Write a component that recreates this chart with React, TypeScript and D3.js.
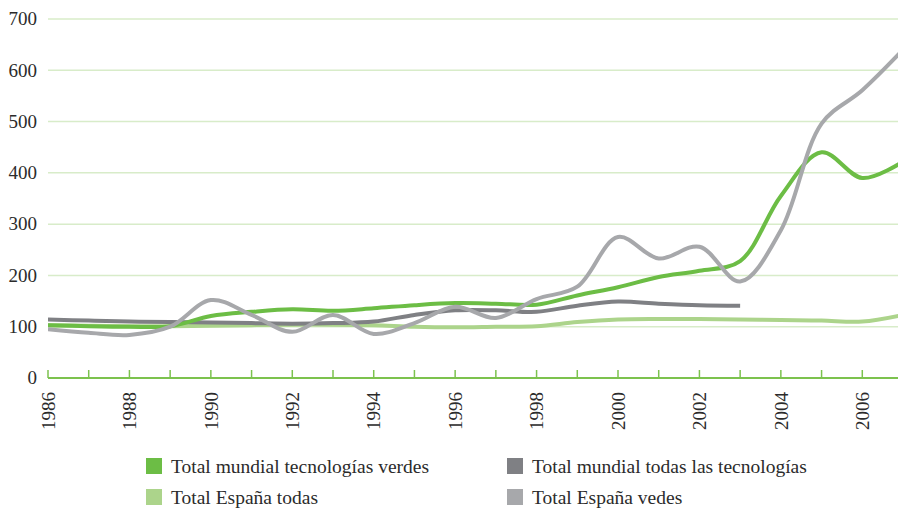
import React from "react";
import * as d3 from "d3";

const years = d3.range(1986, 2008);
const yTicks = [0, 100, 200, 300, 400, 500, 600, 700];
const yearLabels = [1986, 1988, 1990, 1992, 1994, 1996, 1998, 2000, 2002, 2004, 2006];

// Total mundial tecnologías verdes
const mundialVerdes = [103, 101, 100, 101, 121, 129, 134, 131, 136, 142, 146, 145, 143, 161, 177, 197, 209, 228, 355, 440, 390, 422];
// Total mundial todas las tecnologías (ends in 2003)
const mundialTodas = [114, 112, 110, 109, 108, 107, 106, 107, 110, 123, 132, 132, 129, 141, 149, 145, 142, 141];
// Total España todas
const espanaTodas = [103, 102, 101, 101, 102, 103, 104, 104, 103, 100, 99, 100, 101, 109, 114, 115, 115, 114, 113, 112, 110, 123];
// Total España vedes
const espanaVerdes = [95, 88, 84, 100, 152, 123, 90, 123, 86, 107, 139, 117, 154, 178, 275, 233, 256, 188, 288, 496, 561, 640];

const series = [
  { name: "Total España todas", values: espanaTodas, color: "#acd48b" },
  { name: "Total mundial todas las tecnologías", values: mundialTodas, color: "#7f8084" },
  { name: "Total mundial tecnologías verdes", values: mundialVerdes, color: "#6cbd45" },
  { name: "Total España vedes", values: espanaVerdes, color: "#a7a8ab" },
];

const legend = [
  { name: "Total mundial tecnologías verdes", color: "#6cbd45", col: 0, row: 0 },
  { name: "Total mundial todas las tecnologías", color: "#7f8084", col: 1, row: 0 },
  { name: "Total España todas", color: "#acd48b", col: 0, row: 1 },
  { name: "Total España vedes", color: "#a7a8ab", col: 1, row: 1 },
];

export default function App() {
  const width = 898;
  const height = 509;
  const left = 48;
  const right = 898;

  const x = d3.scaleLinear().domain([1986, 2007]).range([left, 903]);
  const y = d3.scaleLinear().domain([0, 700]).range([378, 19]);

  const line = d3
    .line<number>()
    .x((_, i) => x(years[i]))
    .y((d) => y(d))
    .curve(d3.curveCatmullRom.alpha(0.5));

  const font = "Liberation Serif, serif";

  return (
    <svg
      width={width}
      height={height}
      style={{ position: "absolute", left: 0, top: 0, background: "#fff" }}
    >
      <defs>
        <clipPath id="plot">
          <rect x={left} y={0} width={right - left} height={height} />
        </clipPath>
      </defs>
      {yTicks.slice(1).map((t) => (
        <line key={t} x1={left} x2={right} y1={y(t)} y2={y(t)} stroke="#d8ecc9" strokeWidth={1.5} />
      ))}
      {yTicks.map((t) => (
        <text
          key={t}
          x={37}
          y={y(t)}
          dy="0.33em"
          textAnchor="end"
          fontFamily={font}
          fontSize={19}
          fill="#2b2b2b"
        >
          {t}
        </text>
      ))}
      <g clipPath="url(#plot)">
        {series.map((s) => (
          <path
            key={s.name}
            d={line(s.values) || ""}
            fill="none"
            stroke={s.color}
            strokeWidth={4}
            strokeLinejoin="round"
          />
        ))}
      </g>
      <line x1={left} x2={right} y1={y(0)} y2={y(0)} stroke="#7cc24e" strokeWidth={2} />
      {years.slice(0, 21).map((yr) => (
        <line
          key={yr}
          x1={x(yr)}
          x2={x(yr)}
          y1={y(0) - 8}
          y2={y(0)}
          stroke="#7cc24e"
          strokeWidth={1.5}
        />
      ))}
      {yearLabels.map((yr) => (
        <text
          key={yr}
          transform={`translate(${x(yr)},392) rotate(-90)`}
          textAnchor="end"
          dy="0.35em"
          fontFamily={font}
          fontSize={19}
          fill="#2b2b2b"
        >
          {yr}
        </text>
      ))}
      {legend.map((l) => {
        const lx = l.col === 0 ? 146 : 507;
        const ly = l.row === 0 ? 458 : 489;
        return (
          <g key={l.name}>
            <rect x={lx} y={ly} width={16} height={16} fill={l.color} />
            <text x={lx + 25} y={ly + 15} fontFamily={font} fontSize={19.5} fill="#2b2b2b">
              {l.name}
            </text>
          </g>
        );
      })}
    </svg>
  );
}
